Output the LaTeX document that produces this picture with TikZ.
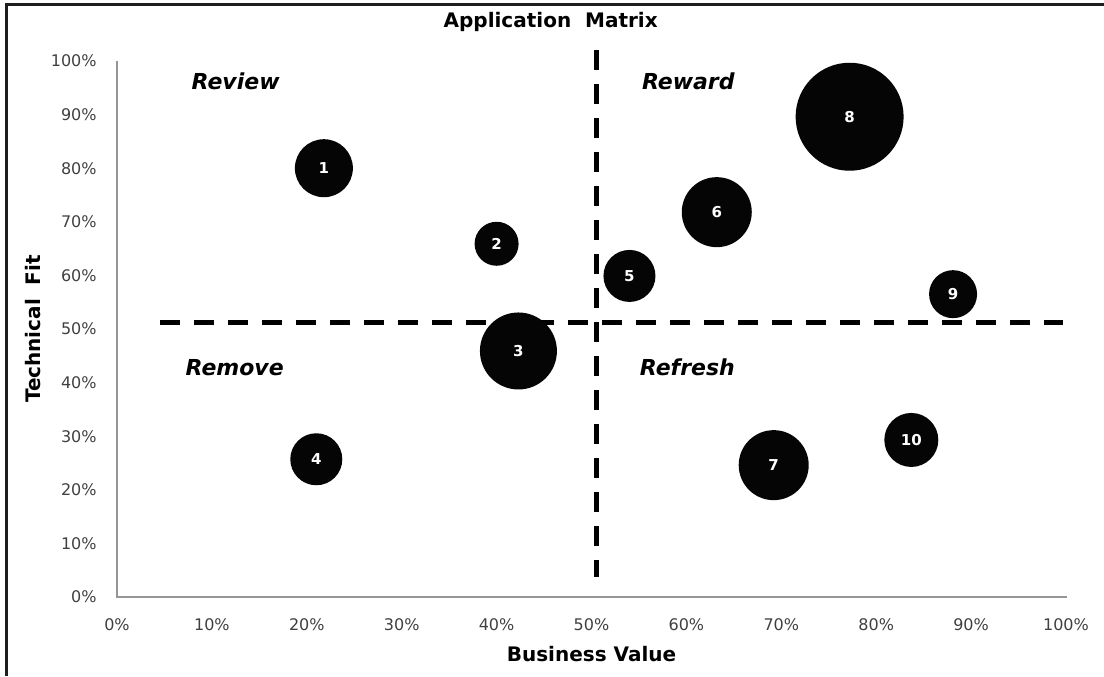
\documentclass[tikz,border=0pt]{standalone}
\usepackage{fontspec}
\setmainfont{DejaVu Sans}
\usepackage{tikz}
\usetikzlibrary{positioning}
\definecolor{axisgray}{RGB}{150,150,150}
\definecolor{ticktext}{RGB}{64,64,64}
\definecolor{bubblefill}{RGB}{5,5,5}
\definecolor{framegray}{RGB}{30,30,30}
\tikzset{bubble/.style={circle,fill=bubblefill,inner sep=0pt,text=white,
  font=\fontsize{7.5}{9}\selectfont\bfseries,minimum size=#1},
bubble/.default={25pt}}

\begin{document}
\begin{tikzpicture}[x=4.745pt,y=2.68pt,
                    tick label/.style={text=ticktext,font=\fontsize{8}{10}\selectfont,inner sep=0pt},
                    axis title/.style={font=\fontsize{10}{12}\selectfont\bfseries,inner sep=0pt},
                    quadrant/.style={font=\fontsize{11}{13}\selectfont\bfseries\itshape,inner sep=0pt},
                    divider/.style={line width=2.5pt,dash pattern=on 10pt off 7pt}]

 \useasboundingbox (-58.5pt,298.5pt) rectangle (493.5pt,-39.5pt);

%DRAWING frame
 \draw[framegray,line width=1.5pt] (-55pt,-39.5pt) -- (-55pt,296pt) -- (493.5pt,296pt);

%DRAWING axes
 \coordinate (Origin) at (0,0);
 \coordinate (XEnd) at (100.1,0);
 \coordinate (YEnd) at (0,100);
 \draw[axisgray,line width=0.9pt] (YEnd) -- (Origin) -- (XEnd);

 \foreach \v in {0,10,...,100}
 {\node[tick label,anchor=east] (YLabel\v) at (-2.11,\v) {\v\%};
  \node[tick label] (XLabel\v) at (\v,-5.22) {\v\%};}

 \node[axis title] (Title) at (45.7,107.3) {Application\ \ Matrix};
 \node[axis title] (XTitle) at (50,-10.63) {Business Value};
 \node[axis title,rotate=90] (YTitle) at (-8.85,50) {Technical\ \ Fit};

%Quadrant dividers
 \coordinate (VTop) at (50.5,102.05);
 \coordinate (VBottom) at (50.5,3.73);
 \coordinate (HLeft) at (4.53,51.2);
 \coordinate (HRight) at (99.7,51.2);
 \draw[divider] (VTop) -- (VBottom);
 \draw[divider] (HLeft) -- (HRight);

 \node[quadrant] (Review) at (12.5,96.3) {Review};
 \node[quadrant] (Reward) at (60.2,96.3) {Reward};
 \node[quadrant] (Remove) at (12.4,42.7) {Remove};
 \node[quadrant] (Refresh) at (60.1,42.9) {Refresh};

%Inserting applications
 \foreach \n/\bx/\by/\bs in {1/21.8/80.0/29pt, 2/40.0/65.9/22pt, 3/42.3/45.9/38.5pt,
   4/21.0/25.7/26pt, 5/54.0/59.9/26pt, 6/63.2/71.8/35pt, 7/69.2/24.6/35pt,
   8/77.2/89.6/54pt, 9/88.1/56.5/24pt, 10/83.7/29.3/27pt}
 {\node[bubble=\bs] (Bubble\n) at (\bx,\by) {\n};}

\end{tikzpicture}
\end{document}
